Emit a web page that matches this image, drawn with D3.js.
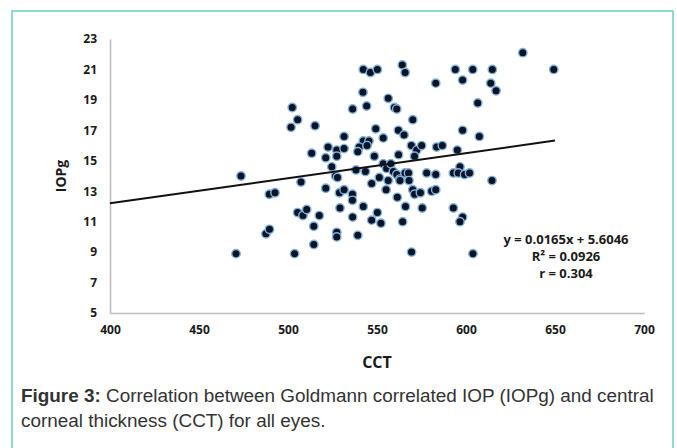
<!DOCTYPE html>
<html>
<head>
<meta charset="utf-8">
<script src="https://cdn.jsdelivr.net/npm/d3@7"></script>
<style>
  body { margin: 0; background: #fff; }
  svg { display: block; }
</style>
</head>
<body>
<div id="chart"></div>
<script>
// CCT (x) and IOPg (y) for each eye
var cct = [502.4, 505.4, 501.7, 515.2, 513.3, 522.5, 521.2, 527.4, 527.4, 524.6,
  526.7, 527.8, 473.6, 507.3, 521.2, 489.5, 492.7, 528.9, 505.4, 508.4,
  510.5, 517.6, 529.2, 514.5, 487.6, 489.6, 527.4, 527.4, 514.5, 470.8,
  503.7, 542.3, 546.3, 550.2, 564.2, 565.8, 583.0, 542.1, 544.2, 536.3,
  556.3, 559.8, 561.1, 570.1, 549.3, 553.5, 562.0, 565.2, 531.5, 531.5,
  542.3, 545.5, 540.0, 539.2, 544.4, 548.5, 562.1, 569.3, 572.3, 571.1,
  575.1, 583.5, 586.7, 538.2, 543.5, 553.5, 555.4, 557.8, 559.2, 561.1,
  562.9, 565.7, 567.7, 551.3, 547.0, 556.3, 562.9, 568.0, 577.9, 583.0,
  531.5, 536.2, 536.2, 555.1, 570.1, 571.1, 574.4, 580.7, 583.0, 561.4,
  542.3, 566.0, 575.4, 536.3, 547.0, 550.2, 552.2, 564.4, 539.2, 569.4,
  631.9, 649.3, 594.0, 603.8, 614.8, 598.1, 613.9, 616.9, 606.6, 598.1,
  607.5, 595.1, 596.6, 592.9, 595.7, 599.2, 602.0, 614.6, 592.9, 598.1,
  596.6, 603.9];
var iop = [18.5, 17.7, 17.2, 17.3, 15.5, 15.9, 15.2, 15.7, 15.3, 14.6,
  14.0, 13.9, 14.0, 13.6, 13.2, 12.8, 12.9, 12.9, 11.6, 11.4,
  11.8, 11.4, 11.9, 10.7, 10.2, 10.5, 10.3, 10.0, 9.5, 8.9,
  8.9, 21.0, 20.8, 21.0, 21.3, 20.8, 20.1, 19.5, 18.6, 18.4,
  19.1, 18.5, 18.4, 17.7, 17.1, 16.5, 17.0, 16.7, 16.6, 15.8,
  16.3, 16.3, 15.9, 15.6, 16.0, 15.3, 15.4, 16.0, 15.7, 15.3,
  16.0, 15.9, 16.0, 14.4, 14.3, 14.8, 14.5, 14.8, 14.3, 14.1,
  13.8, 14.2, 14.2, 13.9, 13.5, 13.7, 13.7, 13.7, 14.2, 14.1,
  13.1, 12.8, 12.4, 13.1, 13.1, 12.8, 12.9, 13.0, 13.1, 12.6,
  12.0, 12.0, 11.9, 11.3, 11.1, 11.6, 10.9, 11.0, 10.1, 9.0,
  22.1, 21.0, 21.0, 21.0, 21.0, 20.3, 20.1, 19.6, 18.8, 17.0,
  16.6, 15.7, 14.6, 14.2, 14.2, 14.1, 14.2, 13.7, 11.9, 11.3,
  11.0, 8.9];

var xTicks = [400, 450, 500, 550, 600, 650, 700];
var yTicks = [5, 7, 9, 11, 13, 15, 17, 19, 21, 23];

// trendline from the figure
var slope = 0.0165, intercept = 5.6046;
var trendX = [400, 650];
var statLines = ["y = 0.0165x + 5.6046", "R\u00b2 = 0.0926", "r = 0.304"];

var W = 677, H = 448;
var axisFont = "'Open Sans', sans-serif";

var svg = d3.select("#chart").append("svg")
  .attr("width", W)
  .attr("height", H);

// teal frame (bottom edge falls off the picture)
svg.append("rect")
  .attr("x", 12).attr("y", 11)
  .attr("width", 661).attr("height", 460)
  .attr("fill", "none")
  .attr("stroke", "#72d2c3")
  .attr("stroke-width", 1.6);

var x = d3.scaleLinear().domain([400, 700]).range([110, 644]);
var y = d3.scaleLinear().domain([5, 23]).range([313, 39]);

// axes
var gAxisY = svg.append("g")
  .attr("transform", "translate(" + x(400) + ",0)")
  .call(d3.axisLeft(y).tickValues(yTicks).tickSize(0).tickPadding(13).tickFormat(d3.format("d")));
var gAxisX = svg.append("g")
  .attr("transform", "translate(0," + y(5) + ")")
  .call(d3.axisBottom(x).tickValues(xTicks).tickSize(0).tickPadding(12).tickFormat(d3.format("d")));

[gAxisY, gAxisX].forEach(function(g){
  g.select(".domain").attr("stroke", "#bdbdbd").attr("stroke-width", 1.6);
  g.selectAll("text")
    .attr("fill", "#1a1a1a")
    .style("font-family", axisFont)
    .style("font-weight", "bold")
    .style("font-size", "12px");
});

// points
svg.append("g").selectAll("circle")
  .data(cct.map(function(d, i){ return [d, iop[i]]; }))
  .enter().append("circle")
    .attr("cx", function(d){ return x(d[0]); })
    .attr("cy", function(d){ return y(d[1]); })
    .attr("r", 4.2)
    .attr("fill", "#0a1424")
    .attr("stroke", "#7fb0de")
    .attr("stroke-width", 1.4);

// linear trendline
svg.append("line")
  .attr("x1", x(trendX[0]))
  .attr("y1", y(slope * trendX[0] + intercept))
  .attr("x2", x(trendX[1]))
  .attr("y2", y(slope * trendX[1] + intercept))
  .attr("stroke", "#111")
  .attr("stroke-width", 2);

// equation block
svg.append("g").selectAll("text")
  .data(statLines)
  .enter().append("text")
    .attr("x", 566)
    .attr("y", function(d, i){ return 244 + i * 17; })
    .attr("text-anchor", "middle")
    .attr("fill", "#1a1a1a")
    .style("font-family", axisFont)
    .style("font-weight", "bold")
    .style("font-size", "13px")
    .text(function(d){ return d; });

// axis titles
svg.append("text")
  .attr("transform", "translate(66,176) rotate(-90)")
  .attr("text-anchor", "middle")
  .attr("fill", "#1a1a1a")
  .style("font-family", axisFont)
  .style("font-weight", "bold")
  .style("font-size", "14px")
  .text("IOPg");

svg.append("text")
  .attr("x", 377).attr("y", 368)
  .attr("text-anchor", "middle")
  .attr("fill", "#1a1a1a")
  .style("font-family", axisFont)
  .style("font-weight", "bold")
  .style("font-size", "16px")
  .text("CCT");

// caption
var cap = svg.append("g")
  .style("font-family", "'Liberation Sans', Arial, sans-serif")
  .style("font-size", "18.9px")
  .attr("fill", "#333");
var line1 = cap.append("text").attr("x", 21).attr("y", 402);
line1.append("tspan").style("font-weight", "bold").text("Figure 3:");
line1.append("tspan").text(" Correlation between Goldmann correlated IOP (IOPg) and central");
cap.append("text").attr("x", 21).attr("y", 427)
  .text("corneal thickness (CCT) for all eyes.");
</script>
</body>
</html>
